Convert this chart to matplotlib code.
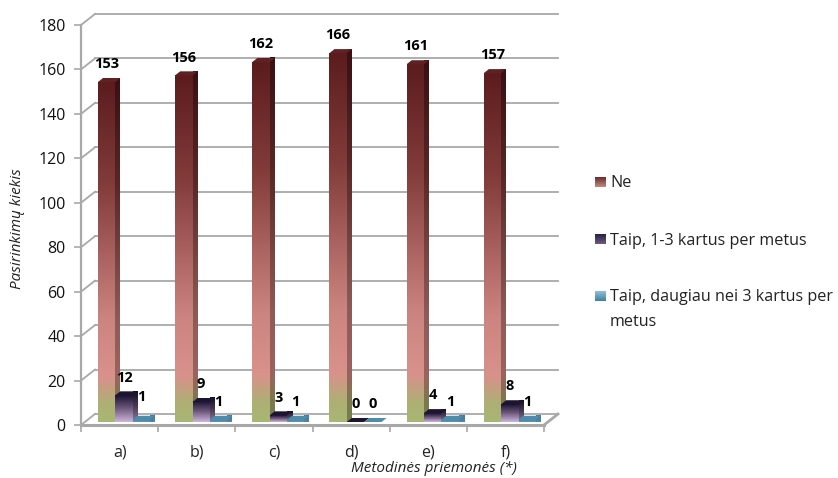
import numpy as np
import matplotlib
matplotlib.use('Agg')
import matplotlib.pyplot as plt
from matplotlib.colors import LinearSegmentedColormap
from matplotlib.patches import Polygon

categories = ['a)', 'b)', 'c)', 'd)', 'e)', 'f)']
ne = [153, 156, 162, 166, 161, 157]
taip_1_3 = [12, 9, 3, 0, 4, 8]
taip_daug = [1, 1, 1, 0, 1, 1]
series_names = ['Ne', 'Taip, 1-3 kartus per metus', 'Taip, daugiau nei 3 kartus per\nmetus']
y_ticks = list(range(0, 181, 20))

plt.rcParams['font.family'] = ['Open Sans', 'DejaVu Sans']

W, H = 838, 478
fig = plt.figure(figsize=(W / 100, H / 100), dpi=100, facecolor='white')

# axes box is the front of the 3d frame
left, right, top, bottom = 81, 544, 25, 425
ax = fig.add_axes([left / W, 1 - bottom / H, (right - left) / W, (bottom - top) / H])
ax.set_xlim(0, 6)
ax.set_ylim(0, 180)
ax.patch.set_alpha(0)

px_x = 6 / (right - left)
px_y = 180 / (bottom - top)
wall_dx = 14 * px_x
wall_dy = 11 * px_y
GRID = '#a8a8a8'

for s in ['top', 'right']:
    ax.spines[s].set_visible(False)
ax.spines['left'].set_color(GRID)
ax.spines['left'].set_linewidth(1.6)
ax.spines['bottom'].set_color(GRID)
ax.spines['bottom'].set_linewidth(2.2)

ax.set_yticks(y_ticks)
ax.tick_params(axis='y', length=5, width=1.2, color=GRID, labelsize=11.5, labelcolor='#111111', pad=6)
ax.set_xticks(range(7))
ax.set_xticklabels([])
ax.tick_params(axis='x', which='major', length=5, width=1.2, color=GRID)
ax.set_xticks([i + 0.5 for i in range(6)], minor=True)
ax.set_xticklabels(categories, minor=True, fontsize=11.5)
ax.tick_params(axis='x', which='minor', length=0, pad=14, labelcolor='#222222')

# back wall and the short slanted lines
for v in y_ticks:
    ax.plot([0, wall_dx], [v, v + wall_dy], color=GRID, lw=1.3, clip_on=False, zorder=1)
    ax.plot([wall_dx, 6 + wall_dx], [v + wall_dy, v + wall_dy], color=GRID, lw=1.3, clip_on=False, zorder=1)
ax.plot([6, 6 + wall_dx], [0, wall_dy], color=GRID, lw=2, clip_on=False, zorder=1)

ne_stops = [(0, '#a9b673'), (0.05, '#adb074'), (0.13, '#d9918c'), (0.3, '#cc8480'), (0.7, '#823c3a'), (1, '#5c1c1e')]
ne_side_stops = [(0, '#75804d'), (0.05, '#7a7a4e'), (0.13, '#9a635f'), (0.3, '#8e5a57'), (0.7, '#582725'), (1, '#3a1012')]
ne_cmap = LinearSegmentedColormap.from_list('ne', ne_stops)
ne_side = LinearSegmentedColormap.from_list('ne_side', ne_side_stops)
taip_cmap = LinearSegmentedColormap.from_list('taip', ['#cdb5da', '#6f5a7e', '#1a1230'])
taip_side = LinearSegmentedColormap.from_list('taip_side', ['#8c7a96', '#4a3c56', '#120c22'])
daug_cmap = LinearSegmentedColormap.from_list('daug', ['#5a96b5', '#4a84a6'])
daug_side = LinearSegmentedColormap.from_list('daug_side', ['#4f86a3', '#447a98'])
grad = np.linspace(0, 1, 128).reshape(-1, 1)

bar_w = 0.225
base = 3 * px_y
depth_x = 5 * px_x
depth_y = 4 * px_y


def draw_bar(x0, val, cmap, side_cmap, top_col):
    y0 = base
    y1 = base + val
    x1 = x0 + bar_w
    if val > 0:
        ax.imshow(grad, cmap=cmap, origin='lower', extent=[x0, x1, y0, y1], aspect='auto', zorder=3, clip_on=False)
        im = ax.imshow(grad, cmap=side_cmap, origin='lower',
                       extent=[x1, x1 + depth_x, y0, y1 + depth_y], aspect='auto', zorder=3, clip_on=False)
        im.set_clip_path(Polygon([(x1, y0), (x1 + depth_x, y0 + depth_y), (x1 + depth_x, y1 + depth_y), (x1, y1)],
                                 transform=ax.transData))
    ax.add_patch(Polygon([(x0, y1), (x1, y1), (x1 + depth_x, y1 + depth_y), (x0 + depth_x, y1 + depth_y)],
                         facecolor=top_col, edgecolor='none', zorder=4, clip_on=False))


label_lift = 8.0
for i in range(6):
    g = i + 0.22
    draw_bar(g, ne[i], ne_cmap, ne_side, '#5e2224')
    draw_bar(g + bar_w, taip_1_3[i], taip_cmap, taip_side, '#1d1430')
    draw_bar(g + 2 * bar_w, taip_daug[i], daug_cmap, daug_side, '#4f8cab')
    for k, vals in enumerate([ne, taip_1_3, taip_daug]):
        lift = label_lift
        if k == 2 and i == 0:
            lift += 2.2  # this one sits higher in the picture
        ax.text(g + (k + 0.5) * bar_w, base + vals[i] + lift, str(vals[i]), ha='center', va='center',
                fontsize=10.5, fontweight='bold', color='black', zorder=6, clip_on=False)

ax.set_xlim(0, 6)
ax.set_ylim(0, 180)

fig.text(434 / W, 1 - 468 / H, 'Metodinės priemonės (*)', style='italic', fontsize=11, ha='center', va='center',
         color='#222222')
fig.text(18 / W, 1 - 229 / H, 'Pasirinkimų kiekis', style='italic', fontsize=11, rotation=90, ha='center',
         va='center', color='#222222')

# legend, swatches carry the same gradients
swatches = [(177, ['#6b2a2a', '#c08a80']), (234, ['#2a2040', '#6d5c80']), (291, ['#8fc0d8', '#3f7fa0'])]
text_y = [182, 240, 296]
for (sy, cols), name, ty in zip(swatches, series_names, text_y):
    sw = fig.add_axes([595 / W, 1 - (sy + 10) / H, 11 / W, 10 / H])
    sw.imshow(grad, cmap=LinearSegmentedColormap.from_list('s', cols[::-1]), origin='lower', aspect='auto')
    sw.axis('off')
    fig.text(610 / W, 1 - (ty - 7) / H, name, fontsize=11.6, ha='left', va='top', color='#222222', linespacing=1.75)

fig.savefig('out.png', dpi=100)
